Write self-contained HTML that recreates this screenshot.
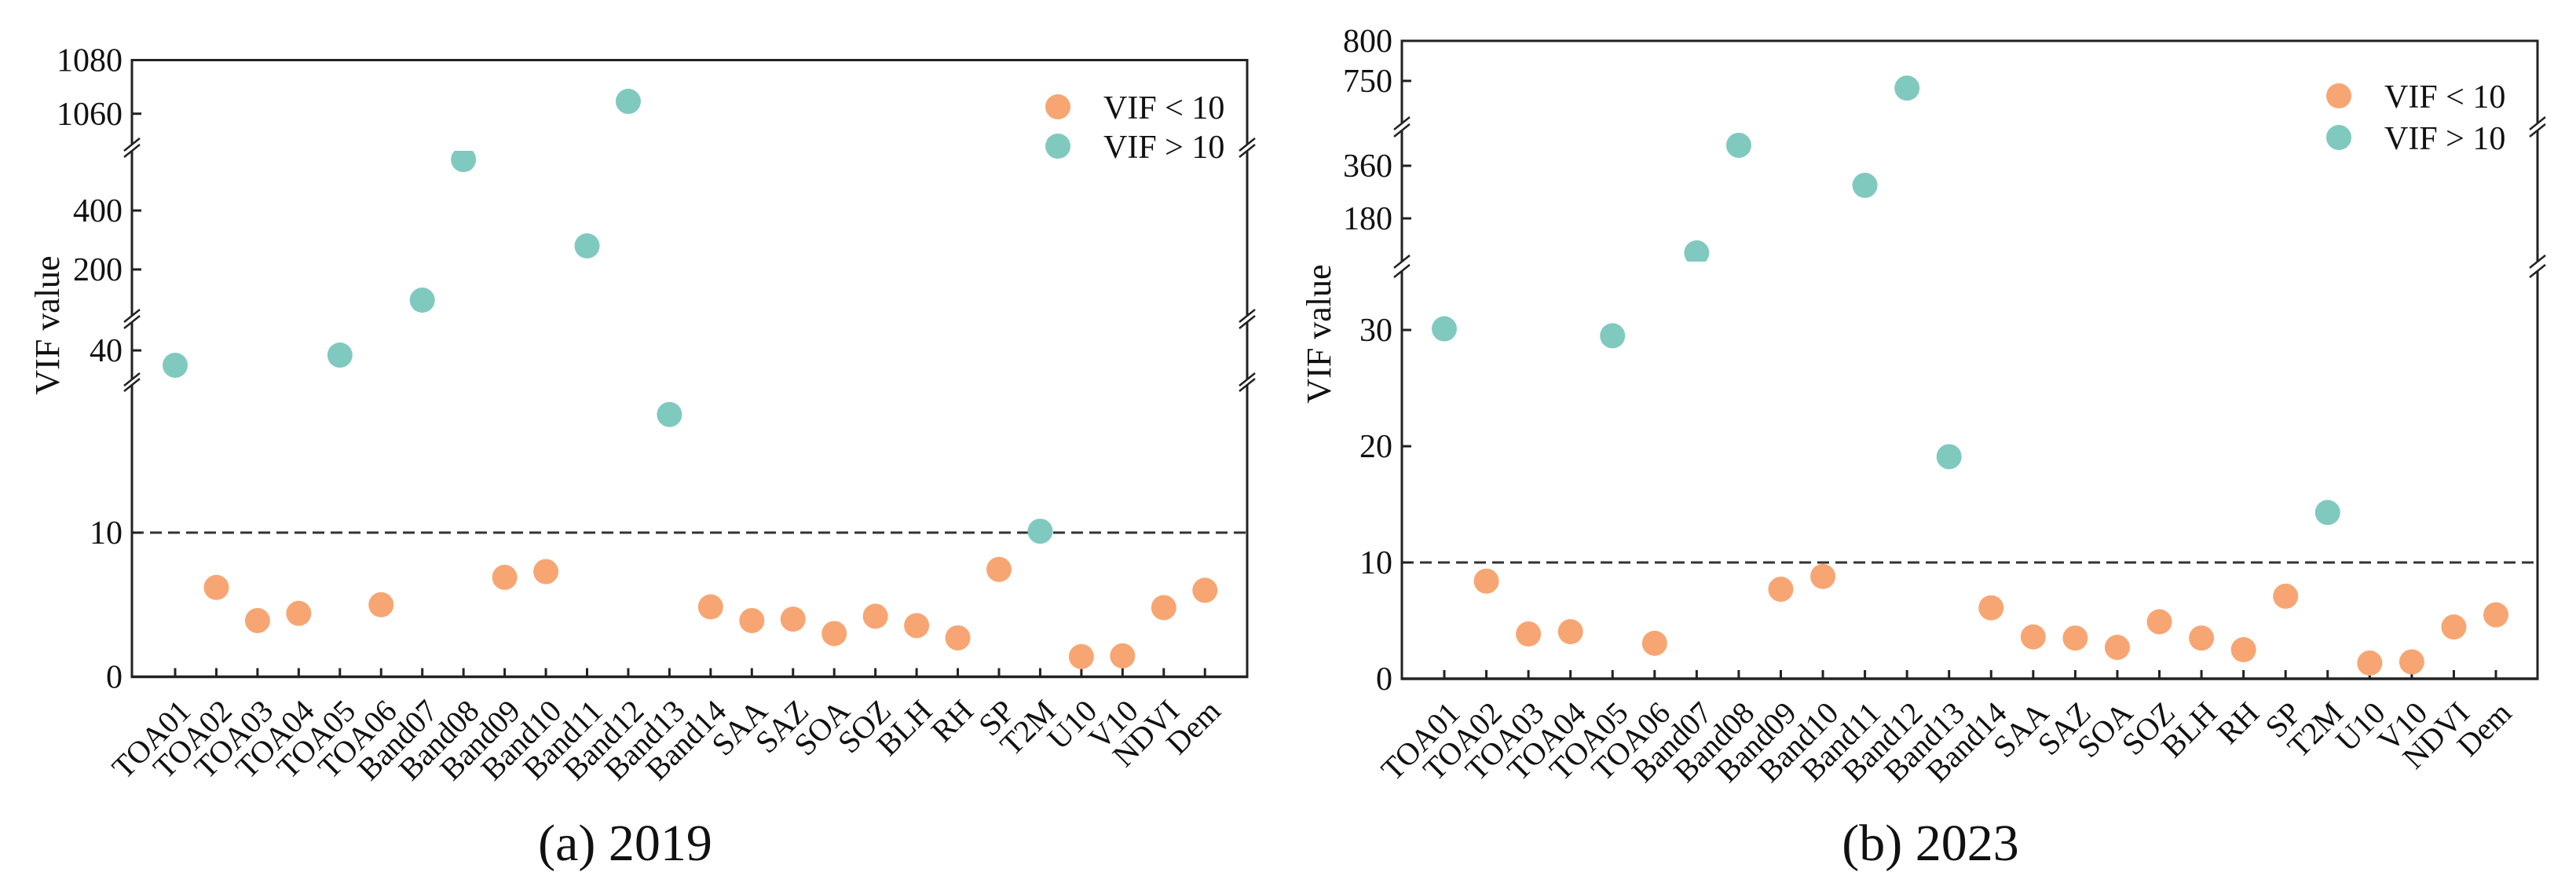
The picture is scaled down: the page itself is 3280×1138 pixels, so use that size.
<!DOCTYPE html>
<html><head><meta charset="utf-8">
<style>
html,body{margin:0;padding:0;background:#fff;}
svg{display:block;}
text{font-family:"Liberation Serif","Times New Roman",serif;fill:#111;}
</style></head>
<body>
<svg id="fig" width="3280" height="1138" viewBox="0 0 3280 1138" xmlns="http://www.w3.org/2000/svg"></svg>
<script>
// ---- data ----
const categories = ["TOA01","TOA02","TOA03","TOA04","TOA05","TOA06","Band07","Band08","Band09","Band10","Band11","Band12","Band13","Band14","SAA","SAZ","SOA","SOZ","BLH","RH","SP","T2M","U10","V10","NDVI","Dem"];
const vif2019 = [33.7,6.2,3.9,4.4,38,5.0,96,573,6.9,7.3,280,1064.6,18.2,4.85,3.9,4.0,3.0,4.2,3.55,2.7,7.45,10.1,1.4,1.45,4.8,6.0];
const vif2023 = [30.1,8.4,3.85,4.05,29.5,3.05,62,430,7.7,8.8,293,741,19.1,6.1,3.6,3.5,2.7,4.9,3.5,2.5,7.1,14.3,1.35,1.45,4.45,5.5];
const ticks2019 = [1080,1060,400,200,40,10,0];
const ticks2023 = [800,750,360,180,30,20,10,0];
const threshold = 10;
const legendLabels = ["VIF < 10","VIF > 10"];

const NS="http://www.w3.org/2000/svg";
const svg=document.getElementById('fig');
function mk(tag,attrs,parent){const e=document.createElementNS(NS,tag);for(const k in attrs)e.setAttribute(k,attrs[k]);(parent||svg).appendChild(e);return e;}
const ORANGE="#F7A673", TEAL="#80C9BF", AX="#222";

const panels=[
 {id:'a',vals:vif2019,ticks:ticks2019,left:168,right:1588,top:76.5,bottom:861.5,x0:223,dx:52.45,
  segs:[{y0:76.5,y1:184,vT:1080,vB:1048.5},{y0:192,y1:402,vT:602.7,vB:42.7},{y0:410,y1:483,vT:52,vB:27.7},{y0:490,y1:861.5,vT:20.25,vB:0}],
  legX:1347,legY:[136,186],ylabX:60,ylabY:414,cap:"(a) 2019",capX:796},
 {id:'b',vals:vif2023,ticks:ticks2023,left:1785,right:3231,top:52,bottom:864,x0:1839,dx:53.56,
  segs:[{y0:52,y1:157,vT:800,vB:697},{y0:166,y1:333,vT:480.9,vB:32.2},{y0:345,y1:864,vT:35.07,vB:0}],
  legX:2978,legY:[122,175],ylabX:1679,ylabY:425,cap:"(b) 2023",capX:2458}
];

function segFor(p,v){
  for(let i=0;i<p.segs.length;i++){const s=p.segs[i];if(v<=s.vT+1e-9&&v>=s.vB-1e-9)return i;}
  let best=0,bd=Infinity;p.segs.forEach((s,i)=>{const d=Math.min(Math.abs(v-s.vT),Math.abs(v-s.vB));if(d<bd){bd=d;best=i;}});return best;
}
function yScale(p,v){const s=p.segs[segFor(p,v)];return s.y1-(v-s.vB)/(s.vT-s.vB)*(s.y1-s.y0);}
function xScale(p,i){return p.x0+i*p.dx;}

panels.forEach(p=>{
  const g=mk('g',{});
  
  
  // clip paths
  const defs=mk('defs',{},g);
  p.segs.forEach((s,i)=>{const cp=mk('clipPath',{id:'clip'+p.id+i},defs);mk('rect',{x:p.left,y:s.y0,width:p.right-p.left,height:s.y1-s.y0},cp);});
  // threshold line
  const ty=yScale(p,threshold);
  const th=mk('line',{x1:p.left,x2:p.right,y1:ty,y2:ty,stroke:'#333','stroke-width':3,'stroke-dasharray':'15,8'},g);
  
  
  // axes: top & bottom
  mk('line',{x1:p.left-1.5,x2:p.right+1.5,y1:p.top,y2:p.top,stroke:AX,'stroke-width':3},g);
  const xa=mk('line',{x1:p.left-1.5,x2:p.right+1.5,y1:p.bottom,y2:p.bottom,stroke:AX,'stroke-width':3.5},g);
  
  
  // vertical axis segments
  p.segs.forEach(s=>{
    [p.left,p.right].forEach(x=>{mk('line',{x1:x,x2:x,y1:s.y0,y2:s.y1,stroke:AX,'stroke-width':3},g);});
  });
  // break marks
  for(let i=0;i<p.segs.length-1;i++){
    const a=p.segs[i].y1,b=p.segs[i+1].y0;
    [p.left,p.right].forEach(x=>{
      const bm=mk('g',{},g);
      
      
      mk('line',{x1:x-10,x2:x+10,y1:a+8,y2:a-8,stroke:AX,'stroke-width':2.5},bm);
      mk('line',{x1:x-10,x2:x+10,y1:b+8,y2:b-8,stroke:AX,'stroke-width':2.5},bm);
    });
  }
  // y ticks
  p.ticks.forEach(t=>{
    const y=yScale(p,t);
    if(Math.abs(y-p.top)>2&&Math.abs(y-p.bottom)>2) mk('line',{x1:p.left,x2:p.left+12,y1:y,y2:y,stroke:AX,'stroke-width':3},g);
    const tl=mk('text',{x:p.left-12,y:y+14,'text-anchor':'end','font-size':42},g);
    tl.textContent=t;
    
    
  });
  // x ticks and labels
  categories.forEach((c,i)=>{
    const x=xScale(p,i);
    mk('line',{x1:x,x2:x,y1:p.bottom,y2:p.bottom-11,stroke:AX,'stroke-width':3},g);
    const px=x+22,py=p.bottom+46;
    const tl=mk('text',{x:px,y:py,'text-anchor':'end','font-size':40,transform:`rotate(-45 ${px} ${py})`},g);
    tl.textContent=c;
    
    
  });
  // points
  p.vals.forEach((v,i)=>{
    const si=segFor(p,v);
    const pt=mk('circle',{cx:xScale(p,i),cy:yScale(p,v),r:16,fill:v>threshold?TEAL:ORANGE,'clip-path':`url(#clip${p.id}${si})`},g);
    
    
  });
  // legend
  [ORANGE,TEAL].forEach((col,k)=>{
    const le=mk('g',{},g);
    
    
    mk('circle',{cx:p.legX,cy:p.legY[k],r:16,fill:col},le);
    const t=mk('text',{x:p.legX+58,y:p.legY[k]+15,'font-size':42},le);
    t.textContent=legendLabels[k];
  });
  // y label
  const yl=mk('text',{x:p.ylabX,y:p.ylabY,'text-anchor':'middle','font-size':44,transform:`rotate(-90 ${p.ylabX} ${p.ylabY})`,dy:15},g);
  yl.textContent="VIF value";
  
  
  // caption
  const cp=mk('text',{x:p.capX,y:1095,'text-anchor':'middle','font-size':66},g);
  cp.textContent=p.cap;
  
  
});
</script>
</body></html>
